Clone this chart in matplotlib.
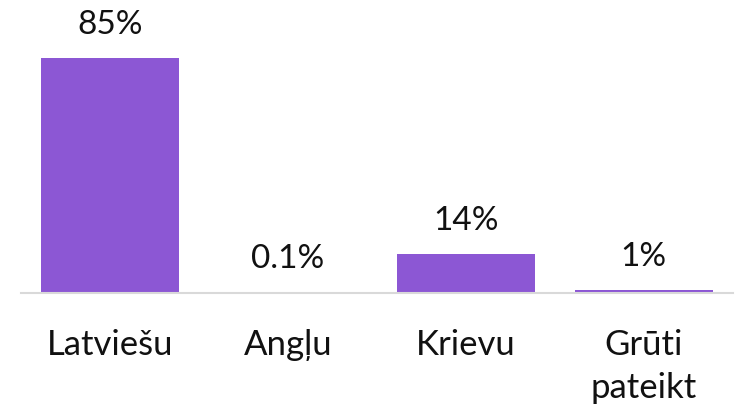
import matplotlib.pyplot as plt

categories = ["Latviešu", "Angļu", "Krievu", "Grūti\npateikt"]
values = [85, 0.1, 14, 1]
value_labels = ["85%", "0.1%", "14%", "1%"]

BAR_COLOR = "#8C57D4"
AXIS_COLOR = "#D9D9D9"

plt.rcParams["font.family"] = ["Lato", "DejaVu Sans"]

fig, ax = plt.subplots(figsize=(7.44, 4.12), dpi=100)
fig.subplots_adjust(left=0.028, right=0.985, bottom=0.29, top=0.86)

x = list(range(len(categories)))
bars = ax.bar(x, values, width=0.775, color=BAR_COLOR)

for bar, label in zip(bars, value_labels):
    ax.annotate(
        label,
        (bar.get_x() + bar.get_width() / 2, bar.get_height()),
        xytext=(0, 13),
        textcoords="offset points",
        ha="center",
        va="bottom",
        fontsize=24,
        color="#111111",
    )

ax.set_xlim(-0.5, 3.5)
ax.set_ylim(0, 85)
ax.set_xticks(x)
ax.set_xticklabels(categories, fontsize=25, color="#111111", linespacing=1.45)
ax.tick_params(axis="x", length=0, pad=26)
ax.set_yticks([])

for side in ["top", "right", "left"]:
    ax.spines[side].set_visible(False)
ax.spines["bottom"].set_color(AXIS_COLOR)
ax.spines["bottom"].set_linewidth(1.5)

plt.savefig("out.png", dpi=100)
plt.close()
